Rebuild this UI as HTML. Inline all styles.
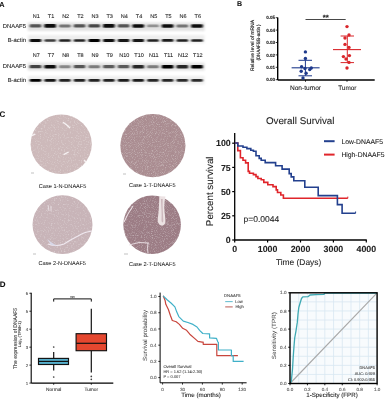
<!DOCTYPE html>
<html><head><meta charset="utf-8"><style>
html,body{margin:0;padding:0;background:#fff;width:385px;height:400px;overflow:hidden}
svg{display:block;filter:blur(0.3px);font-family:"Liberation Sans", sans-serif}
text{text-rendering:geometricPrecision}
</style></head><body>
<svg width="385" height="400" viewBox="0 0 385 400">
<defs>
<filter id="band" x="-50%" y="-100%" width="200%" height="300%"><feGaussianBlur stdDeviation="0.8 0.6"/></filter>
<filter id="soft" x="-5%" y="-50%" width="110%" height="200%"><feGaussianBlur stdDeviation="1.0"/></filter>
<filter id="tex" x="0" y="0" width="100%" height="100%"><feTurbulence type="fractalNoise" baseFrequency="0.7" numOctaves="2" seed="3" result="n"/><feColorMatrix in="n" type="matrix" values="0 0 0 0 1  0 0 0 0 1  0 0 0 0 1  0.8 0 0 0 -0.42" result="na"/><feComposite in="na" in2="SourceGraphic" operator="in" result="nm"/><feMerge><feMergeNode in="SourceGraphic"/><feMergeNode in="nm"/></feMerge></filter><filter id="tex2" x="0" y="0" width="100%" height="100%"><feTurbulence type="fractalNoise" baseFrequency="1.1" numOctaves="2" seed="7" result="n"/><feColorMatrix in="n" type="matrix" values="0 0 0 0 1  0 0 0 0 0.95  0 0 0 0 0.95  0.8 0 0 0 -0.4" result="na"/><feComposite in="na" in2="SourceGraphic" operator="in" result="nm"/><feTurbulence type="fractalNoise" baseFrequency="0.6" numOctaves="1" seed="11" result="n2"/><feColorMatrix in="n2" type="matrix" values="0 0 0 0 0.35  0 0 0 0 0.2  0 0 0 0 0.25  0 1.0 0 0 -0.5" result="nb"/><feComposite in="nb" in2="SourceGraphic" operator="in" result="nd"/><feMerge><feMergeNode in="SourceGraphic"/><feMergeNode in="nd"/><feMergeNode in="nm"/></feMerge></filter>
</defs>
<rect width="385" height="400" fill="#fff"/>
<text x="-0.7" y="6.8" font-size="7.3" text-anchor="start" font-weight="bold" fill="#111" stroke="#111" stroke-width="0.08" >A</text>
<text x="236.9" y="6.0" font-size="7.0" text-anchor="start" font-weight="bold" fill="#111" stroke="#111" stroke-width="0.08" >B</text>
<text x="-0.6" y="116.9" font-size="8.0" text-anchor="start" font-weight="bold" fill="#111" stroke="#111" stroke-width="0.08" >C</text>
<text x="-0.3" y="286.6" font-size="8.0" text-anchor="start" font-weight="bold" fill="#111" stroke="#111" stroke-width="0.08" >D</text>
<text x="36.3" y="17.78" font-size="5.5" text-anchor="middle" font-weight="normal" fill="#1a1a1a" stroke="#1a1a1a" stroke-width="0.08" >N1</text>
<text x="50.98" y="17.78" font-size="5.5" text-anchor="middle" font-weight="normal" fill="#1a1a1a" stroke="#1a1a1a" stroke-width="0.08" >T1</text>
<text x="65.66" y="17.78" font-size="5.5" text-anchor="middle" font-weight="normal" fill="#1a1a1a" stroke="#1a1a1a" stroke-width="0.08" >N2</text>
<text x="80.34" y="17.78" font-size="5.5" text-anchor="middle" font-weight="normal" fill="#1a1a1a" stroke="#1a1a1a" stroke-width="0.08" >T2</text>
<text x="95.02" y="17.78" font-size="5.5" text-anchor="middle" font-weight="normal" fill="#1a1a1a" stroke="#1a1a1a" stroke-width="0.08" >N3</text>
<text x="109.7" y="17.78" font-size="5.5" text-anchor="middle" font-weight="normal" fill="#1a1a1a" stroke="#1a1a1a" stroke-width="0.08" >T3</text>
<text x="124.38" y="17.78" font-size="5.5" text-anchor="middle" font-weight="normal" fill="#1a1a1a" stroke="#1a1a1a" stroke-width="0.08" >N4</text>
<text x="139.06" y="17.78" font-size="5.5" text-anchor="middle" font-weight="normal" fill="#1a1a1a" stroke="#1a1a1a" stroke-width="0.08" >T4</text>
<text x="153.74" y="17.78" font-size="5.5" text-anchor="middle" font-weight="normal" fill="#1a1a1a" stroke="#1a1a1a" stroke-width="0.08" >N5</text>
<text x="168.42" y="17.78" font-size="5.5" text-anchor="middle" font-weight="normal" fill="#1a1a1a" stroke="#1a1a1a" stroke-width="0.08" >T5</text>
<text x="183.1" y="17.78" font-size="5.5" text-anchor="middle" font-weight="normal" fill="#1a1a1a" stroke="#1a1a1a" stroke-width="0.08" >N6</text>
<text x="197.78" y="17.78" font-size="5.5" text-anchor="middle" font-weight="normal" fill="#1a1a1a" stroke="#1a1a1a" stroke-width="0.08" >T6</text>
<rect x="27.8" y="22.5" width="176.79999999999998" height="8.5" fill="#e2e2e2" filter="url(#soft)"/>
<rect x="29.70" y="24.30" width="11.6" height="3.19" rx="1.2" fill="rgb(85,85,85)" filter="url(#band)"/>
<rect x="44.38" y="24.11" width="11.6" height="3.57" rx="1.2" fill="rgb(11,11,11)" filter="url(#band)"/>
<rect x="59.06" y="24.39" width="11.6" height="3.03" rx="1.2" fill="rgb(117,117,117)" filter="url(#band)"/>
<rect x="73.74" y="24.30" width="11.6" height="3.19" rx="1.2" fill="rgb(85,85,85)" filter="url(#band)"/>
<rect x="88.42" y="24.27" width="11.6" height="3.26" rx="1.2" fill="rgb(71,71,71)" filter="url(#band)"/>
<rect x="103.10" y="24.11" width="11.6" height="3.57" rx="1.2" fill="rgb(11,11,11)" filter="url(#band)"/>
<rect x="117.78" y="24.30" width="11.6" height="3.19" rx="1.2" fill="rgb(85,85,85)" filter="url(#band)"/>
<rect x="132.46" y="24.13" width="11.6" height="3.55" rx="1.2" fill="rgb(15,15,15)" filter="url(#band)"/>
<rect x="147.14" y="24.46" width="11.6" height="2.88" rx="1.2" fill="rgb(146,146,146)" filter="url(#band)"/>
<rect x="161.82" y="24.13" width="11.6" height="3.55" rx="1.2" fill="rgb(15,15,15)" filter="url(#band)"/>
<rect x="176.50" y="24.39" width="11.6" height="3.03" rx="1.2" fill="rgb(117,117,117)" filter="url(#band)"/>
<rect x="191.18" y="24.13" width="11.6" height="3.54" rx="1.2" fill="rgb(17,17,17)" filter="url(#band)"/>
<text x="26" y="28.0" font-size="5.9" text-anchor="end" font-weight="normal" fill="#1a1a1a" stroke="#1a1a1a" stroke-width="0.08" >DNAAF5</text>
<rect x="27.8" y="35.0" width="176.79999999999998" height="8.200000000000003" fill="#eeeeee" filter="url(#soft)"/>
<rect x="29.70" y="39.11" width="11.6" height="2.79" rx="1.2" fill="rgb(17,17,17)" filter="url(#band)"/>
<rect x="44.38" y="39.20" width="11.6" height="2.61" rx="1.2" fill="rgb(63,63,63)" filter="url(#band)"/>
<rect x="59.06" y="39.14" width="11.6" height="2.72" rx="1.2" fill="rgb(33,33,33)" filter="url(#band)"/>
<rect x="73.74" y="39.15" width="11.6" height="2.70" rx="1.2" fill="rgb(40,40,40)" filter="url(#band)"/>
<rect x="88.42" y="39.08" width="11.6" height="2.83" rx="1.2" fill="rgb(6,6,6)" filter="url(#band)"/>
<rect x="103.10" y="39.11" width="11.6" height="2.79" rx="1.2" fill="rgb(17,17,17)" filter="url(#band)"/>
<rect x="117.78" y="39.12" width="11.6" height="2.77" rx="1.2" fill="rgb(22,22,22)" filter="url(#band)"/>
<rect x="132.46" y="39.12" width="11.6" height="2.77" rx="1.2" fill="rgb(22,22,22)" filter="url(#band)"/>
<rect x="147.14" y="39.14" width="11.6" height="2.72" rx="1.2" fill="rgb(33,33,33)" filter="url(#band)"/>
<rect x="161.82" y="39.12" width="11.6" height="2.75" rx="1.2" fill="rgb(27,27,27)" filter="url(#band)"/>
<rect x="176.50" y="39.14" width="11.6" height="2.72" rx="1.2" fill="rgb(33,33,33)" filter="url(#band)"/>
<rect x="191.18" y="39.14" width="11.6" height="2.72" rx="1.2" fill="rgb(33,33,33)" filter="url(#band)"/>
<text x="26" y="42.1" font-size="5.9" text-anchor="end" font-weight="normal" fill="#1a1a1a" stroke="#1a1a1a" stroke-width="0.08" >B-actin</text>
<text x="36.3" y="57.18" font-size="5.5" text-anchor="middle" font-weight="normal" fill="#1a1a1a" stroke="#1a1a1a" stroke-width="0.08" >N7</text>
<text x="50.98" y="57.18" font-size="5.5" text-anchor="middle" font-weight="normal" fill="#1a1a1a" stroke="#1a1a1a" stroke-width="0.08" >T7</text>
<text x="65.66" y="57.18" font-size="5.5" text-anchor="middle" font-weight="normal" fill="#1a1a1a" stroke="#1a1a1a" stroke-width="0.08" >N8</text>
<text x="80.34" y="57.18" font-size="5.5" text-anchor="middle" font-weight="normal" fill="#1a1a1a" stroke="#1a1a1a" stroke-width="0.08" >T8</text>
<text x="95.02" y="57.18" font-size="5.5" text-anchor="middle" font-weight="normal" fill="#1a1a1a" stroke="#1a1a1a" stroke-width="0.08" >N9</text>
<text x="109.7" y="57.18" font-size="5.5" text-anchor="middle" font-weight="normal" fill="#1a1a1a" stroke="#1a1a1a" stroke-width="0.08" >T9</text>
<text x="124.38" y="57.18" font-size="5.5" text-anchor="middle" font-weight="normal" fill="#1a1a1a" stroke="#1a1a1a" stroke-width="0.08" >N10</text>
<text x="139.06" y="57.18" font-size="5.5" text-anchor="middle" font-weight="normal" fill="#1a1a1a" stroke="#1a1a1a" stroke-width="0.08" >T10</text>
<text x="153.74" y="57.18" font-size="5.5" text-anchor="middle" font-weight="normal" fill="#1a1a1a" stroke="#1a1a1a" stroke-width="0.08" >N11</text>
<text x="168.42" y="57.18" font-size="5.5" text-anchor="middle" font-weight="normal" fill="#1a1a1a" stroke="#1a1a1a" stroke-width="0.08" >T11</text>
<text x="183.1" y="57.18" font-size="5.5" text-anchor="middle" font-weight="normal" fill="#1a1a1a" stroke="#1a1a1a" stroke-width="0.08" >N12</text>
<text x="197.78" y="57.18" font-size="5.5" text-anchor="middle" font-weight="normal" fill="#1a1a1a" stroke="#1a1a1a" stroke-width="0.08" >T12</text>
<rect x="27.8" y="62.8" width="176.79999999999998" height="7.700000000000003" fill="#e2e2e2" filter="url(#soft)"/>
<rect x="29.70" y="65.06" width="11.6" height="3.28" rx="1.2" fill="rgb(67,67,67)" filter="url(#band)"/>
<rect x="44.38" y="64.93" width="11.6" height="3.54" rx="1.2" fill="rgb(17,17,17)" filter="url(#band)"/>
<rect x="59.06" y="65.23" width="11.6" height="2.94" rx="1.2" fill="rgb(135,135,135)" filter="url(#band)"/>
<rect x="73.74" y="65.10" width="11.6" height="3.19" rx="1.2" fill="rgb(85,85,85)" filter="url(#band)"/>
<rect x="88.42" y="65.20" width="11.6" height="2.99" rx="1.2" fill="rgb(123,123,123)" filter="url(#band)"/>
<rect x="103.10" y="65.12" width="11.6" height="3.17" rx="1.2" fill="rgb(90,90,90)" filter="url(#band)"/>
<rect x="117.78" y="65.12" width="11.6" height="3.17" rx="1.2" fill="rgb(90,90,90)" filter="url(#band)"/>
<rect x="132.46" y="64.99" width="11.6" height="3.42" rx="1.2" fill="rgb(40,40,40)" filter="url(#band)"/>
<rect x="147.14" y="65.20" width="11.6" height="2.99" rx="1.2" fill="rgb(123,123,123)" filter="url(#band)"/>
<rect x="161.82" y="64.90" width="11.6" height="3.60" rx="1.2" fill="rgb(6,6,6)" filter="url(#band)"/>
<rect x="176.50" y="64.99" width="11.6" height="3.42" rx="1.2" fill="rgb(40,40,40)" filter="url(#band)"/>
<rect x="191.18" y="64.90" width="11.6" height="3.60" rx="1.2" fill="rgb(6,6,6)" filter="url(#band)"/>
<text x="26" y="68.3" font-size="5.9" text-anchor="end" font-weight="normal" fill="#1a1a1a" stroke="#1a1a1a" stroke-width="0.08" >DNAAF5</text>
<rect x="27.8" y="76.0" width="176.79999999999998" height="8.400000000000006" fill="#eeeeee" filter="url(#soft)"/>
<rect x="29.70" y="78.98" width="11.6" height="2.83" rx="1.2" fill="rgb(6,6,6)" filter="url(#band)"/>
<rect x="44.38" y="79.02" width="11.6" height="2.77" rx="1.2" fill="rgb(22,22,22)" filter="url(#band)"/>
<rect x="59.06" y="79.04" width="11.6" height="2.72" rx="1.2" fill="rgb(33,33,33)" filter="url(#band)"/>
<rect x="73.74" y="79.04" width="11.6" height="2.72" rx="1.2" fill="rgb(33,33,33)" filter="url(#band)"/>
<rect x="88.42" y="79.04" width="11.6" height="2.72" rx="1.2" fill="rgb(33,33,33)" filter="url(#band)"/>
<rect x="103.10" y="79.04" width="11.6" height="2.72" rx="1.2" fill="rgb(33,33,33)" filter="url(#band)"/>
<rect x="117.78" y="79.02" width="11.6" height="2.75" rx="1.2" fill="rgb(27,27,27)" filter="url(#band)"/>
<rect x="132.46" y="79.02" width="11.6" height="2.75" rx="1.2" fill="rgb(27,27,27)" filter="url(#band)"/>
<rect x="147.14" y="79.05" width="11.6" height="2.70" rx="1.2" fill="rgb(40,40,40)" filter="url(#band)"/>
<rect x="161.82" y="79.05" width="11.6" height="2.70" rx="1.2" fill="rgb(40,40,40)" filter="url(#band)"/>
<rect x="176.50" y="79.06" width="11.6" height="2.68" rx="1.2" fill="rgb(44,44,44)" filter="url(#band)"/>
<rect x="191.18" y="79.06" width="11.6" height="2.68" rx="1.2" fill="rgb(44,44,44)" filter="url(#band)"/>
<text x="26" y="81.5" font-size="5.9" text-anchor="end" font-weight="normal" fill="#1a1a1a" stroke="#1a1a1a" stroke-width="0.08" >B-actin</text>
<line x1="277.7" y1="17.5" x2="277.7" y2="80" stroke="#000" stroke-width="1.4" />
<line x1="277.7" y1="80" x2="374.7" y2="80" stroke="#000" stroke-width="1.4" />
<line x1="275.7" y1="79.7" x2="277.7" y2="79.7" stroke="#000" stroke-width="0.8" />
<text x="275.2" y="81.35" font-size="4.6" text-anchor="end" font-weight="bold" fill="#222" stroke="#222" stroke-width="0.1" >0.00</text>
<line x1="275.7" y1="67.3" x2="277.7" y2="67.3" stroke="#000" stroke-width="0.8" />
<text x="275.2" y="68.95" font-size="4.6" text-anchor="end" font-weight="bold" fill="#222" stroke="#222" stroke-width="0.1" >0.01</text>
<line x1="275.7" y1="54.900000000000006" x2="277.7" y2="54.900000000000006" stroke="#000" stroke-width="0.8" />
<text x="275.2" y="56.55" font-size="4.6" text-anchor="end" font-weight="bold" fill="#222" stroke="#222" stroke-width="0.1" >0.02</text>
<line x1="275.7" y1="42.5" x2="277.7" y2="42.5" stroke="#000" stroke-width="0.8" />
<text x="275.2" y="44.15" font-size="4.6" text-anchor="end" font-weight="bold" fill="#222" stroke="#222" stroke-width="0.1" >0.03</text>
<line x1="275.7" y1="30.1" x2="277.7" y2="30.1" stroke="#000" stroke-width="0.8" />
<text x="275.2" y="31.75" font-size="4.6" text-anchor="end" font-weight="bold" fill="#222" stroke="#222" stroke-width="0.1" >0.04</text>
<line x1="275.7" y1="17.700000000000003" x2="277.7" y2="17.700000000000003" stroke="#000" stroke-width="0.8" />
<text x="275.2" y="19.35" font-size="4.6" text-anchor="end" font-weight="bold" fill="#222" stroke="#222" stroke-width="0.1" >0.05</text>
<line x1="305.5" y1="80" x2="305.5" y2="81.8" stroke="#000" stroke-width="0.8" />
<line x1="347" y1="80" x2="347" y2="81.8" stroke="#000" stroke-width="0.8" />
<text transform="translate(252.3,45.5) rotate(-90)" x="0" y="1.80" font-size="5.0" text-anchor="middle" fill="#222" stroke="#222" stroke-width="0.15" textLength="51" lengthAdjust="spacingAndGlyphs">Relative level of mRNA</text>
<text transform="translate(258.6,42.5) rotate(-90)" x="0" y="1.73" font-size="4.8" text-anchor="middle" fill="#222" stroke="#222" stroke-width="0.15" textLength="36" lengthAdjust="spacingAndGlyphs">(DNAAF5/B-actin )</text>
<text x="305.5" y="90.18" font-size="6.6" text-anchor="middle" font-weight="normal" fill="#222" stroke="#222" stroke-width="0.08" >Non-tumor</text>
<text x="347.3" y="90.1" font-size="6.4" text-anchor="middle" font-weight="normal" fill="#222" stroke="#222" stroke-width="0.08" >Tumor</text>
<line x1="305.5" y1="19.5" x2="345.7" y2="19.5" stroke="#333" stroke-width="0.9" />
<text x="325.8" y="20.2" font-size="7.6" text-anchor="middle" font-weight="bold" fill="#222" stroke="#222" stroke-width="0.08" >**</text>
<line x1="291.6" y1="67.8" x2="319.6" y2="67.8" stroke="#1f3a8c" stroke-width="1.1" />
<line x1="305.4" y1="60.3" x2="305.4" y2="75.8" stroke="#1f3a8c" stroke-width="1" />
<line x1="298.5" y1="60.3" x2="312" y2="60.3" stroke="#1f3a8c" stroke-width="1" />
<line x1="298.5" y1="75.8" x2="312" y2="75.8" stroke="#1f3a8c" stroke-width="1" />
<circle cx="305.4" cy="51.9" r="1.7" fill="#1f3a8c"/>
<circle cx="305.4" cy="58.5" r="1.7" fill="#1f3a8c"/>
<circle cx="301.6" cy="66.8" r="1.7" fill="#1f3a8c"/>
<circle cx="311.3" cy="68" r="1.7" fill="#1f3a8c"/>
<circle cx="309.7" cy="69.6" r="1.7" fill="#1f3a8c"/>
<circle cx="301.2" cy="71.2" r="1.7" fill="#1f3a8c"/>
<circle cx="306.1" cy="73.2" r="1.7" fill="#1f3a8c"/>
<circle cx="303" cy="78" r="1.7" fill="#1f3a8c"/>
<circle cx="305" cy="68.5" r="1.7" fill="#1f3a8c"/>
<line x1="333" y1="49.6" x2="361" y2="49.6" stroke="#d9262b" stroke-width="1.1" />
<line x1="347.3" y1="36" x2="347.3" y2="62.6" stroke="#d9262b" stroke-width="1" />
<line x1="340.6" y1="36" x2="354" y2="36" stroke="#d9262b" stroke-width="1" />
<line x1="340.6" y1="62.6" x2="354" y2="62.6" stroke="#d9262b" stroke-width="1" />
<circle cx="347" cy="26.6" r="1.7" fill="#d9262b"/>
<circle cx="349" cy="35" r="1.7" fill="#d9262b"/>
<circle cx="345" cy="38" r="1.7" fill="#d9262b"/>
<circle cx="345" cy="44.4" r="1.7" fill="#d9262b"/>
<circle cx="349" cy="47.4" r="1.7" fill="#d9262b"/>
<circle cx="343.4" cy="56.6" r="1.7" fill="#d9262b"/>
<circle cx="349.4" cy="55.6" r="1.7" fill="#d9262b"/>
<circle cx="346" cy="59" r="1.7" fill="#d9262b"/>
<circle cx="349" cy="62.4" r="1.7" fill="#d9262b"/>
<circle cx="347" cy="68" r="1.7" fill="#d9262b"/>
<ellipse cx="61.2" cy="144.2" rx="30.6" ry="29.8" fill="#cdb9ba" filter="url(#tex)"/>
<path d="M63,122.3 l3.5,2.5 l3.5,3.2 M31.8,135.6 l3.5,-1.4 M63.6,154.6 l5,-2.6 M84,160 l2,2" stroke="#f6f1f2" stroke-width="1.4" fill="none"/><path d="M31,173 h3" stroke="#999" stroke-width="0.6"/>
<text x="62.6" y="187.62" font-size="5.6" text-anchor="middle" font-weight="normal" fill="#1a1a1a" stroke="#1a1a1a" stroke-width="0.03" >Case 1-N-DNAAF5</text>
<ellipse cx="152.9" cy="145.6" rx="32.6" ry="31.6" fill="#ab8e92" filter="url(#tex2)"/>
<path d="M123,174 h3" stroke="#999" stroke-width="0.6"/>
<text x="152.2" y="186.92" font-size="5.6" text-anchor="middle" font-weight="normal" fill="#1a1a1a" stroke="#1a1a1a" stroke-width="0.03" >Case 1-T-DNAAF5</text>
<ellipse cx="62.5" cy="224.7" rx="30" ry="29.4" fill="#c8b4b8" filter="url(#tex)"/>
<path d="M92,231 q-8,1 -14,5 q-8,4 -14,8 q-8,3 -16,0" stroke="#efe8ef" stroke-width="1.1" fill="none"/><path d="M47,239 q5,4 10,7 l-6,-1 z" fill="#d8d8e8"/><path d="M48,205 l1,6 M51,206 l0,5" stroke="#eee6ea" stroke-width="0.8"/><path d="M33,254 h3" stroke="#999" stroke-width="0.6"/>
<text x="62.2" y="265.32" font-size="5.6" text-anchor="middle" font-weight="normal" fill="#1a1a1a" stroke="#1a1a1a" stroke-width="0.03" >Case 2-N-DNAAF5</text>
<ellipse cx="152.1" cy="224.8" rx="28.8" ry="29.2" fill="#9c7d85" filter="url(#tex2)"/>
<g transform="translate(0.5,0)"><path d="M158.8,196.2 C158.6,205 158.2,213 157.2,219 C156.8,225 162.2,228 164.8,223 C165.5,219 163.6,212 163.8,206 C164,202 164.6,198 165,196.5 Z" fill="#ece2e3"/><path d="M160.4,199 C160.8,207 161.4,214 161,220 C161,223 162.6,223 162.8,221 C162.6,214 161.8,206 162.2,199 Z" fill="#cdb8bd"/></g><path d="M124,222 q4,-9 9,-16" stroke="#ece2e6" stroke-width="1.1" fill="none"/><path d="M129,245 q10,-4 20,-2 M148,243 q-1,6 0,10" stroke="#ece2e6" stroke-width="0.9" fill="none"/><path d="M124,254 h4" stroke="#999" stroke-width="0.6"/>
<text x="152.2" y="265.82" font-size="5.6" text-anchor="middle" font-weight="normal" fill="#1a1a1a" stroke="#1a1a1a" stroke-width="0.03" >Case 2-T-DNAAF5</text>
<text x="300.2" y="124.3" font-size="9.8" text-anchor="middle" font-weight="normal" fill="#222" stroke="#222" stroke-width="0.08" >Overall Survival</text>
<line x1="234.7" y1="133" x2="234.7" y2="240.0" stroke="#000" stroke-width="1.3" />
<line x1="234.7" y1="240.0" x2="366.8" y2="240.0" stroke="#000" stroke-width="1.3" />
<line x1="232.2" y1="240.0" x2="234.7" y2="240.0" stroke="#000" stroke-width="1.2" />
<text x="230.7" y="243.2" font-size="8.8" text-anchor="end" font-weight="bold" fill="#222" stroke="#222" stroke-width="0.08" >0</text>
<line x1="232.2" y1="215.8" x2="234.7" y2="215.8" stroke="#000" stroke-width="1.2" />
<text x="230.7" y="219.0" font-size="8.8" text-anchor="end" font-weight="bold" fill="#222" stroke="#222" stroke-width="0.08" >25</text>
<line x1="232.2" y1="191.6" x2="234.7" y2="191.6" stroke="#000" stroke-width="1.2" />
<text x="230.7" y="194.8" font-size="8.8" text-anchor="end" font-weight="bold" fill="#222" stroke="#222" stroke-width="0.08" >50</text>
<line x1="232.2" y1="167.39999999999998" x2="234.7" y2="167.39999999999998" stroke="#000" stroke-width="1.2" />
<text x="230.7" y="170.6" font-size="8.8" text-anchor="end" font-weight="bold" fill="#222" stroke="#222" stroke-width="0.08" >75</text>
<line x1="232.2" y1="143.2" x2="234.7" y2="143.2" stroke="#000" stroke-width="1.2" />
<text x="230.7" y="146.4" font-size="8.8" text-anchor="end" font-weight="bold" fill="#222" stroke="#222" stroke-width="0.08" >100</text>
<line x1="234.7" y1="240.0" x2="234.7" y2="242.5" stroke="#000" stroke-width="1.2" />
<text x="234.7" y="252.4" font-size="8.8" text-anchor="middle" font-weight="bold" fill="#222" stroke="#222" stroke-width="0.08" >0</text>
<line x1="267.6" y1="240.0" x2="267.6" y2="242.5" stroke="#000" stroke-width="1.2" />
<text x="267.6" y="252.4" font-size="8.8" text-anchor="middle" font-weight="bold" fill="#222" stroke="#222" stroke-width="0.08" >1000</text>
<line x1="300.5" y1="240.0" x2="300.5" y2="242.5" stroke="#000" stroke-width="1.2" />
<text x="300.5" y="252.4" font-size="8.8" text-anchor="middle" font-weight="bold" fill="#222" stroke="#222" stroke-width="0.08" >2000</text>
<line x1="333.4" y1="240.0" x2="333.4" y2="242.5" stroke="#000" stroke-width="1.2" />
<text x="333.4" y="252.4" font-size="8.8" text-anchor="middle" font-weight="bold" fill="#222" stroke="#222" stroke-width="0.08" >3000</text>
<line x1="366.3" y1="240.0" x2="366.3" y2="242.5" stroke="#000" stroke-width="1.2" />
<text x="366.3" y="252.4" font-size="8.8" text-anchor="middle" font-weight="bold" fill="#222" stroke="#222" stroke-width="0.08" >4000</text>
<text transform="translate(213.2,191.3) rotate(-90)" font-size="9.8" stroke="#222" stroke-width="0.08" text-anchor="middle" fill="#222">Percent survival</text>
<text x="298.6" y="265.4" font-size="8.4" text-anchor="middle" font-weight="normal" fill="#222" stroke="#222" stroke-width="0.08" >Time (Days)</text>
<text x="243.6" y="221.8" font-size="8.5" text-anchor="start" font-weight="normal" fill="#222" stroke="#222" stroke-width="0.08" >p=0.0044</text>
<polyline points="234.9,143 237.8,143 237.8,150.6 240.4,150.6 240.4,157.7 243,157.7 243,160.3 245.6,160.3 245.6,162.9 248.2,162.9 248.2,171.4 249.5,171.4 249.5,173.3 253.4,173.3 253.4,174.6 256,174.6 256,176.6 257.9,176.6 257.9,178.5 261.2,178.5 261.2,179.8 263.8,179.8 263.8,182.4 267.8,182.4 267.8,184.7 273,184.7 273,186.6 276.2,186.6 276.2,189.9 277.5,189.9 277.5,192.5 280.8,192.5 280.8,195 283.4,195 283.4,198.3 347.8,198.3 347.8,198.3" fill="none" stroke="#e0252b" stroke-width="1.6" />
<polyline points="234.9,143 237.8,143 237.8,146 243,146 243,147.3 246.9,147.3 246.9,148.6 250.8,148.6 250.8,150.3 253.4,150.3 253.4,151.2 256,151.2 256,155.8 259.2,155.8 259.2,158.4 261.2,158.4 261.2,160.3 265.2,160.3 265.2,162.6 275.6,162.6 275.6,165.8 282.1,165.8 282.1,169.1 289.2,169.1 289.2,173.6 291.2,173.6 291.2,176.9 293.8,176.9 293.8,180.8 304.8,180.8 304.8,187.3 318.2,187.3 318.2,195.6 337.4,195.6 337.4,204.6 342.1,204.6 342.1,213.2 355.6,213.2 355.6,213.2" fill="none" stroke="#23408e" stroke-width="1.6" />
<line x1="355.6" y1="213.2" x2="355.6" y2="211.5" stroke="#23408e" stroke-width="1" />
<line x1="347.8" y1="198.3" x2="347.8" y2="196.6" stroke="#e0252b" stroke-width="1" />
<line x1="324" y1="141.2" x2="334.6" y2="141.2" stroke="#23408e" stroke-width="2.0" />
<line x1="324" y1="154.6" x2="334.6" y2="154.6" stroke="#e0252b" stroke-width="2.0" />
<text x="341.4" y="143.5" font-size="6.8" text-anchor="start" font-weight="normal" fill="#222" stroke="#222" stroke-width="0.08" >Low-DNAAF5</text>
<text x="341.4" y="156.8" font-size="6.8" text-anchor="start" font-weight="normal" fill="#222" stroke="#222" stroke-width="0.08" >High-DNAAF5</text>
<line x1="31.2" y1="292.7" x2="31.2" y2="383.1" stroke="#000" stroke-width="1.1" />
<line x1="31.2" y1="383.1" x2="113.3" y2="383.1" stroke="#000" stroke-width="1.1" />
<line x1="29.4" y1="383.1" x2="31.2" y2="383.1" stroke="#000" stroke-width="0.8" />
<text x="28.2" y="384.6" font-size="4.4" text-anchor="end" font-weight="normal" fill="#444" stroke="#444" stroke-width="0.08" >1</text>
<line x1="29.4" y1="365.13" x2="31.2" y2="365.13" stroke="#000" stroke-width="0.8" />
<text x="28.2" y="366.63" font-size="4.4" text-anchor="end" font-weight="normal" fill="#444" stroke="#444" stroke-width="0.08" >2</text>
<line x1="29.4" y1="347.16" x2="31.2" y2="347.16" stroke="#000" stroke-width="0.8" />
<text x="28.2" y="348.66" font-size="4.4" text-anchor="end" font-weight="normal" fill="#444" stroke="#444" stroke-width="0.08" >3</text>
<line x1="29.4" y1="329.19000000000005" x2="31.2" y2="329.19000000000005" stroke="#000" stroke-width="0.8" />
<text x="28.2" y="330.69" font-size="4.4" text-anchor="end" font-weight="normal" fill="#444" stroke="#444" stroke-width="0.08" >4</text>
<line x1="29.4" y1="311.22" x2="31.2" y2="311.22" stroke="#000" stroke-width="0.8" />
<text x="28.2" y="312.72" font-size="4.4" text-anchor="end" font-weight="normal" fill="#444" stroke="#444" stroke-width="0.08" >5</text>
<line x1="29.4" y1="293.25" x2="31.2" y2="293.25" stroke="#000" stroke-width="0.8" />
<text x="28.2" y="294.75" font-size="4.4" text-anchor="end" font-weight="normal" fill="#444" stroke="#444" stroke-width="0.08" >6</text>
<line x1="53.7" y1="383.1" x2="53.7" y2="384.8" stroke="#000" stroke-width="0.8" />
<line x1="91.3" y1="383.1" x2="91.3" y2="384.8" stroke="#000" stroke-width="0.8" />
<text x="53.7" y="390.63" font-size="4.8" text-anchor="middle" font-weight="normal" fill="#333" stroke="#333" stroke-width="0.08" >Normal</text>
<text x="91.3" y="390.63" font-size="4.8" text-anchor="middle" font-weight="normal" fill="#333" stroke="#333" stroke-width="0.08" >Tumor</text>
<text transform="translate(15.2,338.4) rotate(-90)" x="0" y="1.94" font-size="5.4" text-anchor="middle" fill="#333" stroke="#333" stroke-width="0.08" textLength="61" lengthAdjust="spacingAndGlyphs">The expression of DNAAF5</text>
<text transform="translate(19.8,334.2) rotate(-90)" x="0" y="1.5" font-size="4.2" text-anchor="middle" fill="#333" stroke="#333" stroke-width="0.06">Log<tspan font-size="3" dy="0.8">2</tspan><tspan dy="-0.8"> (TPM+1)</tspan></text>
<line x1="53.7" y1="351.9" x2="53.7" y2="370.5" stroke="#111" stroke-width="1.2" />
<rect x="38.5" y="358.4" width="30" height="6.1" fill="#55aecb" stroke="#111" stroke-width="1.15"/>
<line x1="38.5" y1="361.4" x2="68.5" y2="361.4" stroke="#111" stroke-width="1.15" />
<circle cx="53.7" cy="347" r="0.85" fill="#444"/><circle cx="53.7" cy="377" r="0.85" fill="#444"/>
<line x1="91.3" y1="308.7" x2="91.3" y2="333.7" stroke="#111" stroke-width="1.2" />
<line x1="91.3" y1="350.7" x2="91.3" y2="372.5" stroke="#111" stroke-width="1.2" />
<rect x="76.1" y="333.7" width="30.4" height="17" fill="#e5472f" stroke="#111" stroke-width="1.15"/>
<line x1="76.1" y1="343.3" x2="106.5" y2="343.3" stroke="#111" stroke-width="1.2" />
<circle cx="91.3" cy="376.4" r="0.85" fill="#444"/><circle cx="91.3" cy="379.3" r="0.85" fill="#444"/>
<polyline points="53.7,301.6 53.7,298.9 91.3,298.9 91.3,301.6" fill="none" stroke="#111" stroke-width="1" />
<text x="72.6" y="298.94" font-size="4" text-anchor="middle" font-weight="normal" fill="#333" stroke="#333" stroke-width="0.08" >***</text>
<line x1="160.1" y1="292.6" x2="160.1" y2="382.8" stroke="#000" stroke-width="1" />
<line x1="160.1" y1="382.8" x2="246.6" y2="382.8" stroke="#000" stroke-width="1" />
<line x1="158.29999999999998" y1="377.6" x2="160.1" y2="377.6" stroke="#000" stroke-width="0.8" />
<text x="156.6" y="379.2" font-size="4.6" text-anchor="end" font-weight="normal" fill="#555" stroke="#555" stroke-width="0.08" >0.0</text>
<line x1="158.29999999999998" y1="361.38" x2="160.1" y2="361.38" stroke="#000" stroke-width="0.8" />
<text x="156.6" y="362.98" font-size="4.6" text-anchor="end" font-weight="normal" fill="#555" stroke="#555" stroke-width="0.08" >0.2</text>
<line x1="158.29999999999998" y1="345.16" x2="160.1" y2="345.16" stroke="#000" stroke-width="0.8" />
<text x="156.6" y="346.76" font-size="4.6" text-anchor="end" font-weight="normal" fill="#555" stroke="#555" stroke-width="0.08" >0.4</text>
<line x1="158.29999999999998" y1="328.94000000000005" x2="160.1" y2="328.94000000000005" stroke="#000" stroke-width="0.8" />
<text x="156.6" y="330.54" font-size="4.6" text-anchor="end" font-weight="normal" fill="#555" stroke="#555" stroke-width="0.08" >0.6</text>
<line x1="158.29999999999998" y1="312.72" x2="160.1" y2="312.72" stroke="#000" stroke-width="0.8" />
<text x="156.6" y="314.32" font-size="4.6" text-anchor="end" font-weight="normal" fill="#555" stroke="#555" stroke-width="0.08" >0.8</text>
<line x1="158.29999999999998" y1="296.5" x2="160.1" y2="296.5" stroke="#000" stroke-width="0.8" />
<text x="156.6" y="298.1" font-size="4.6" text-anchor="end" font-weight="normal" fill="#555" stroke="#555" stroke-width="0.08" >1.0</text>
<line x1="162.6" y1="382.8" x2="162.6" y2="384.6" stroke="#000" stroke-width="0.8" />
<text x="162.6" y="390.86" font-size="4.6" text-anchor="middle" font-weight="normal" fill="#555" stroke="#555" stroke-width="0.08" >0</text>
<line x1="182.5" y1="382.8" x2="182.5" y2="384.6" stroke="#000" stroke-width="0.8" />
<text x="182.5" y="390.86" font-size="4.6" text-anchor="middle" font-weight="normal" fill="#555" stroke="#555" stroke-width="0.08" >30</text>
<line x1="202.39999999999998" y1="382.8" x2="202.39999999999998" y2="384.6" stroke="#000" stroke-width="0.8" />
<text x="202.4" y="390.86" font-size="4.6" text-anchor="middle" font-weight="normal" fill="#555" stroke="#555" stroke-width="0.08" >60</text>
<line x1="222.29999999999998" y1="382.8" x2="222.29999999999998" y2="384.6" stroke="#000" stroke-width="0.8" />
<text x="222.3" y="390.86" font-size="4.6" text-anchor="middle" font-weight="normal" fill="#555" stroke="#555" stroke-width="0.08" >90</text>
<line x1="242.2" y1="382.8" x2="242.2" y2="384.6" stroke="#000" stroke-width="0.8" />
<text x="242.2" y="390.86" font-size="4.6" text-anchor="middle" font-weight="normal" fill="#555" stroke="#555" stroke-width="0.08" >120</text>
<text transform="translate(145.2,335.4) rotate(-90)" x="0" y="2.16" font-size="6.0" text-anchor="middle" fill="#444" stroke="#444" stroke-width="0.03" textLength="51" lengthAdjust="spacingAndGlyphs">Survival probability</text>
<text x="201" y="397.23" font-size="6.2" text-anchor="middle" font-weight="normal" fill="#222" stroke="#222" stroke-width="0.08" >Time (months)</text>
<text x="163.4" y="368.3" font-size="4.0" text-anchor="start" font-weight="normal" fill="#444" stroke="#444" stroke-width="0.08" >Overall Survival</text>
<text x="163.4" y="373.4" font-size="4.0" text-anchor="start" font-weight="normal" fill="#444" stroke="#444" stroke-width="0.08" >HR = 1.62 (1.14-2.30)</text>
<text x="163.4" y="378.1" font-size="4.0" text-anchor="start" font-weight="normal" fill="#444" stroke="#444" stroke-width="0.08" >P = 0.007</text>
<text x="224.1" y="297.3" font-size="4.2" text-anchor="start" font-weight="normal" fill="#444" stroke="#444" stroke-width="0.08" >DNAAF5</text>
<line x1="225.2" y1="301.6" x2="232.7" y2="301.6" stroke="#6cc0d2" stroke-width="1.1" />
<line x1="225.2" y1="306.9" x2="232.7" y2="306.9" stroke="#c06a64" stroke-width="1.1" />
<text x="235.2" y="303.2" font-size="4.1" text-anchor="start" font-weight="normal" fill="#444" stroke="#444" stroke-width="0.08" >Low</text>
<text x="235.4" y="308.4" font-size="4.1" text-anchor="start" font-weight="normal" fill="#444" stroke="#444" stroke-width="0.08" >High</text>
<polyline points="163.2,295.8 165.1,300.4 165.8,304.3 168.4,309.5 170.3,315.3 172.3,320.5 176.2,321.8 179.4,324.4 182.7,328.3 186.6,330.3 189.8,334.2 195.7,339.4 197.9,341.4 202.1,342.1 203.2,342.2 203.2,344.3 216.8,344.3 216.8,355.7 237.9,355.7" fill="none" stroke="#c8453c" stroke-width="1.2" stroke-linejoin="round"/>
<polyline points="163.2,295.8 165.1,297.8 167.1,299.7 171,303 174.9,306.9 176.8,312.1 178.8,316.6 183.3,321.2 187.9,322.5 193,324.4 197,327 199.6,330.3 202.8,333.5 209.6,333.8 209.6,337.9 216.4,338.3 217.9,342.1 218.4,342.5 218.4,350 231.4,350 231.4,355.7 233.2,355.9 233.2,361.4 243.6,361.4" fill="none" stroke="#3fb0c8" stroke-width="1.2" stroke-linejoin="round"/>
<rect x="290.0" y="292.8" width="87.10000000000002" height="90.69999999999999" fill="#f8fbfd"/>
<line x1="298.71" y1="292.8" x2="298.71" y2="383.5" stroke="#d8e7f1" stroke-width="0.8" />
<line x1="290.0" y1="374.43" x2="377.1" y2="374.43" stroke="#d8e7f1" stroke-width="0.8" />
<line x1="307.42" y1="292.8" x2="307.42" y2="383.5" stroke="#d8e7f1" stroke-width="0.8" />
<line x1="290.0" y1="365.36" x2="377.1" y2="365.36" stroke="#d8e7f1" stroke-width="0.8" />
<line x1="316.13" y1="292.8" x2="316.13" y2="383.5" stroke="#d8e7f1" stroke-width="0.8" />
<line x1="290.0" y1="356.29" x2="377.1" y2="356.29" stroke="#d8e7f1" stroke-width="0.8" />
<line x1="324.84" y1="292.8" x2="324.84" y2="383.5" stroke="#d8e7f1" stroke-width="0.8" />
<line x1="290.0" y1="347.22" x2="377.1" y2="347.22" stroke="#d8e7f1" stroke-width="0.8" />
<line x1="333.55" y1="292.8" x2="333.55" y2="383.5" stroke="#d8e7f1" stroke-width="0.8" />
<line x1="290.0" y1="338.15" x2="377.1" y2="338.15" stroke="#d8e7f1" stroke-width="0.8" />
<line x1="342.26" y1="292.8" x2="342.26" y2="383.5" stroke="#d8e7f1" stroke-width="0.8" />
<line x1="290.0" y1="329.08" x2="377.1" y2="329.08" stroke="#d8e7f1" stroke-width="0.8" />
<line x1="350.97" y1="292.8" x2="350.97" y2="383.5" stroke="#d8e7f1" stroke-width="0.8" />
<line x1="290.0" y1="320.01" x2="377.1" y2="320.01" stroke="#d8e7f1" stroke-width="0.8" />
<line x1="359.68" y1="292.8" x2="359.68" y2="383.5" stroke="#d8e7f1" stroke-width="0.8" />
<line x1="290.0" y1="310.94" x2="377.1" y2="310.94" stroke="#d8e7f1" stroke-width="0.8" />
<line x1="368.39" y1="292.8" x2="368.39" y2="383.5" stroke="#d8e7f1" stroke-width="0.8" />
<line x1="290.0" y1="301.87" x2="377.1" y2="301.87" stroke="#d8e7f1" stroke-width="0.8" />
<line x1="290.0" y1="383.5" x2="377.1" y2="292.8" stroke="#a8a8a8" stroke-width="1.1" />
<polyline points="290.2,382.8 291.3,381.1 292.5,369.1 293.2,357.1 293.9,347.6 294.7,338 296,330.8 297.3,322.4 298,314 298.8,307.5 300.4,302 301.5,298.5 302.8,296.9 308,296.7 310,295 316,294.6 324,294.4 324.5,293.2 377.1,293.2" fill="none" stroke="#3ea9b3" stroke-width="1.3" stroke-linejoin="round"/>
<rect x="290.0" y="292.8" width="87.10000000000002" height="90.69999999999999" fill="none" stroke="#000" stroke-width="1.4"/>
<line x1="288.2" y1="383.5" x2="290.0" y2="383.5" stroke="#000" stroke-width="0.9" />
<text x="286.5" y="385.1" font-size="4.6" text-anchor="end" font-weight="normal" fill="#555" stroke="#555" stroke-width="0.08" >0.0</text>
<line x1="290.0" y1="383.5" x2="290.0" y2="385.3" stroke="#000" stroke-width="0.9" />
<text x="290.0" y="390.86" font-size="4.6" text-anchor="middle" font-weight="normal" fill="#555" stroke="#555" stroke-width="0.08" >0.0</text>
<line x1="288.2" y1="365.36" x2="290.0" y2="365.36" stroke="#000" stroke-width="0.9" />
<text x="286.5" y="366.96" font-size="4.6" text-anchor="end" font-weight="normal" fill="#555" stroke="#555" stroke-width="0.08" >0.2</text>
<line x1="307.42" y1="383.5" x2="307.42" y2="385.3" stroke="#000" stroke-width="0.9" />
<text x="307.42" y="390.86" font-size="4.6" text-anchor="middle" font-weight="normal" fill="#555" stroke="#555" stroke-width="0.08" >0.2</text>
<line x1="288.2" y1="347.22" x2="290.0" y2="347.22" stroke="#000" stroke-width="0.9" />
<text x="286.5" y="348.82" font-size="4.6" text-anchor="end" font-weight="normal" fill="#555" stroke="#555" stroke-width="0.08" >0.4</text>
<line x1="324.84" y1="383.5" x2="324.84" y2="385.3" stroke="#000" stroke-width="0.9" />
<text x="324.84" y="390.86" font-size="4.6" text-anchor="middle" font-weight="normal" fill="#555" stroke="#555" stroke-width="0.08" >0.4</text>
<line x1="288.2" y1="329.08" x2="290.0" y2="329.08" stroke="#000" stroke-width="0.9" />
<text x="286.5" y="330.68" font-size="4.6" text-anchor="end" font-weight="normal" fill="#555" stroke="#555" stroke-width="0.08" >0.6</text>
<line x1="342.26" y1="383.5" x2="342.26" y2="385.3" stroke="#000" stroke-width="0.9" />
<text x="342.26" y="390.86" font-size="4.6" text-anchor="middle" font-weight="normal" fill="#555" stroke="#555" stroke-width="0.08" >0.6</text>
<line x1="288.2" y1="310.94" x2="290.0" y2="310.94" stroke="#000" stroke-width="0.9" />
<text x="286.5" y="312.54" font-size="4.6" text-anchor="end" font-weight="normal" fill="#555" stroke="#555" stroke-width="0.08" >0.8</text>
<line x1="359.68" y1="383.5" x2="359.68" y2="385.3" stroke="#000" stroke-width="0.9" />
<text x="359.68" y="390.86" font-size="4.6" text-anchor="middle" font-weight="normal" fill="#555" stroke="#555" stroke-width="0.08" >0.8</text>
<line x1="288.2" y1="292.8" x2="290.0" y2="292.8" stroke="#000" stroke-width="0.9" />
<text x="286.5" y="294.4" font-size="4.6" text-anchor="end" font-weight="normal" fill="#555" stroke="#555" stroke-width="0.08" >1.0</text>
<line x1="377.1" y1="383.5" x2="377.1" y2="385.3" stroke="#000" stroke-width="0.9" />
<text x="377.1" y="390.86" font-size="4.6" text-anchor="middle" font-weight="normal" fill="#555" stroke="#555" stroke-width="0.08" >1.0</text>
<text transform="translate(273.4,335.7) rotate(-90)" x="0" y="2.16" font-size="6.0" text-anchor="middle" fill="#444" stroke="#444" stroke-width="0.03" textLength="47" lengthAdjust="spacingAndGlyphs">Sensitivity (TPR)</text>
<text x="332" y="397.23" font-size="6.2" text-anchor="middle" font-weight="normal" fill="#222" stroke="#222" stroke-width="0.08" >1-Specificity (FPR)</text>
<text x="374.9" y="369.4" font-size="3.9" text-anchor="end" font-weight="normal" fill="#444" stroke="#444" stroke-width="0.08" >DNAAF5</text>
<text x="374.9" y="375.1" font-size="3.9" text-anchor="end" font-weight="normal" fill="#444" stroke="#444" stroke-width="0.08" >AUC: 0.929</text>
<text x="374.9" y="380.5" font-size="3.9" text-anchor="end" font-weight="normal" fill="#444" stroke="#444" stroke-width="0.08" >CI: 0.902-0.955</text>
</svg>
</body></html>
